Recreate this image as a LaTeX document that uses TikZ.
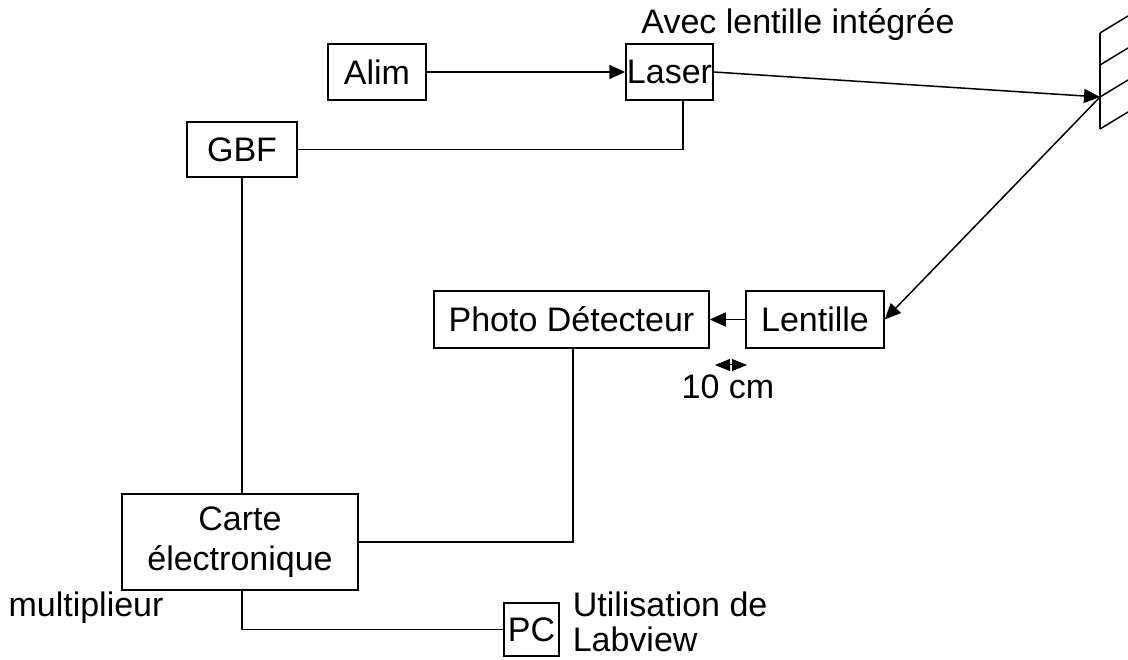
\documentclass[tikz,border=0pt]{standalone}
\usepackage{fontspec}
\setmainfont{Liberation Sans}
\usetikzlibrary{arrows.meta}
\begin{document}
\begin{tikzpicture}[x=1pt,y=-1pt,
  line width=1.5pt,
  every node/.style={font=\fontsize{34}{38}\selectfont},
  box/.style={draw, inner sep=0pt, align=center},
  lbl/.style={inner sep=0pt, align=left},
  arr/.style={-{Triangle[length=16pt,width=14pt]}}]
\useasboundingbox (0,0) rectangle (1128,660);
% boxes
\node[box, minimum width=98pt, minimum height=56pt] (alim) at (377,72) {Alim};
\node[box, minimum width=87pt, minimum height=56pt] (laser) at (669.5,72) {Laser};
\node[box, minimum width=110pt, minimum height=55pt] (gbf) at (242,149.5) {GBF};
\node[box, minimum width=275pt, minimum height=57pt] (photo) at (571.5,319.5) {Photo Détecteur};
\node[box, minimum width=236pt, minimum height=96pt] (carte) at (240,542) {Carte\\[2pt]électronique};
\node[box, minimum width=138pt, minimum height=57pt] (lent) at (815,319.5) {Lentille};
\node[box, minimum width=55pt, minimum height=53pt] (pc) at (531.5,629.5) {PC};
% labels
\node[lbl] (avec) at (798,25) {Avec lentille intégrée};
\node[lbl, anchor=west, font=\fontsize{34}{35}\selectfont] (util) at (572,622) {Utilisation de\\Labview};
\node[lbl] (mult) at (86,608) {multiplieur};
\node[lbl] (dix) at (728,387) {10 cm};
% mirror
\coordinate (m) at (1100,97);
\draw (1100,33) -- (1100,129);
\draw (1100,33) -- (1128,16);
\draw (1100,65) -- (1128,48);
\draw (1100,97) -- (1128,80);
\draw (1100,129) -- (1128,112);
% connectors
\draw[arr] (alim.east) -- (laser.west);
\draw[arr] (laser.east) -- (m);
\draw[arr] (m) -- (lent.east);
\draw[arr] (lent.west) -- (photo.east);
\coordinate (ls) at (683,100);
\draw (gbf.east) -| (ls);
\draw (gbf.south) -- (gbf.south |- carte.north);
\coordinate (ps) at (573,348);
\draw (carte.east) -| (ps);
\draw (carte.south -| gbf.south) |- (pc.west);
\coordinate (da) at (715,365);
\coordinate (db) at (747,365);
\draw[{Triangle[length=15pt,width=12pt]}-{Triangle[length=15pt,width=12pt]}, line width=1pt] (da) -- (db);
\end{tikzpicture}
\end{document}
